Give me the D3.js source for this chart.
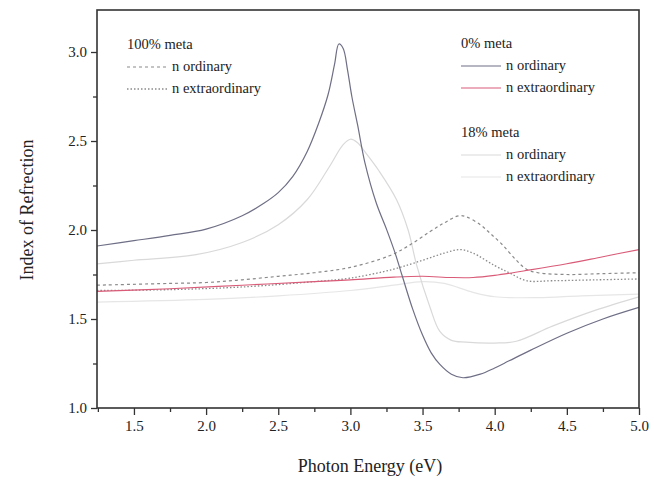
<!DOCTYPE html>
<html><head><meta charset="utf-8">
<script src="https://cdn.jsdelivr.net/npm/d3@7/dist/d3.min.js"></script>
<style>body{margin:0;background:#fff}svg{display:block}</style>
</head><body><svg id="c" width="654" height="480" font-family="'Liberation Serif', 'DejaVu Serif', serif"></svg>
<script>
// ---- data ----
const xTicks = [1.5, 2.0, 2.5, 3.0, 3.5, 4.0, 4.5, 5.0];
const yTicks = [1.0, 1.5, 2.0, 2.5, 3.0];
const xLabel = "Photon Energy (eV)";
const yLabel = "Index of Refrection";

// 0% meta, n ordinary
const e0o = [1.244,1.5,1.75,2.0,2.25,2.4,2.5,2.6,2.7,2.78,2.845,2.89,2.92,2.95,2.98,3.01,3.05,3.1,3.18,3.25,3.31,3.36,3.43,3.5,3.56,3.62,3.7,3.78,3.9,4.0,4.1,4.25,4.5,4.75,5.0];
const n0o = [1.91,1.94,1.97,2.005,2.08,2.15,2.21,2.30,2.44,2.6,2.76,2.93,3.045,3.02,2.9,2.75,2.59,2.38,2.15,2.005,1.87,1.74,1.56,1.41,1.31,1.245,1.19,1.17,1.19,1.225,1.265,1.325,1.42,1.50,1.565];
// 0% meta, n extraordinary
const e0e = [1.244,1.75,2.25,2.75,3.0,3.3,3.5,3.7,3.85,4.0,4.2,4.5,4.75,5.0];
const n0e = [1.655,1.67,1.69,1.71,1.72,1.735,1.74,1.733,1.733,1.745,1.77,1.81,1.85,1.89];
// 100% meta, n ordinary
const e100o = [1.244,1.75,2.0,2.25,2.5,2.75,3.0,3.27,3.4,3.55,3.65,3.75,3.8,3.9,3.97,4.05,4.15,4.22,4.3,4.5,4.75,5.0];
const n100o = [1.69,1.70,1.705,1.72,1.74,1.76,1.79,1.855,1.91,1.99,2.04,2.08,2.075,2.03,1.98,1.92,1.83,1.78,1.76,1.75,1.755,1.76];
// 100% meta, n extraordinary
const e100e = [1.244,1.75,2.25,2.75,3.0,3.3,3.5,3.65,3.76,3.85,4.0,4.1,4.22,4.4,4.7,5.0];
const n100e = [1.66,1.665,1.68,1.71,1.73,1.78,1.83,1.87,1.89,1.87,1.80,1.76,1.715,1.715,1.72,1.725];
// 18% meta, n ordinary
const e18o = [1.244,1.5,1.92,2.25,2.5,2.7,2.85,2.95,3.0,3.05,3.1,3.2,3.32,3.4,3.46,3.55,3.62,3.7,3.8,4.0,4.15,4.4,4.7,5.0];
const n18o = [1.81,1.83,1.86,1.93,2.03,2.17,2.35,2.48,2.51,2.49,2.44,2.33,2.17,2.0,1.80,1.57,1.43,1.38,1.37,1.365,1.375,1.46,1.55,1.625];
// 18% meta, n extraordinary
const e18e = [1.244,2.0,2.5,3.0,3.3,3.5,3.65,3.85,4.0,4.3,4.6,5.0];
const n18e = [1.595,1.61,1.63,1.66,1.69,1.71,1.70,1.65,1.625,1.62,1.63,1.64];

const groupTitles = ["100% meta", "0% meta", "18% meta"];
const seriesNames = ["n ordinary", "n extraordinary"];

// ---- drawing ----
const FONT = "'Liberation Serif', 'DejaVu Serif', serif";
const svg = d3.select("#c");
const L = 97, R = 639, T = 10, B = 408;
const x = d3.scaleLinear().domain([1.244, 5.0]).range([L, R]);
const y = d3.scaleLinear().domain([1.0, 3.236]).range([B, T]);

const series = [
  {e: e18e, n: n18e, color: "#e6e6e6", dash: null, w: 1.2},
  {e: e18o, n: n18o, color: "#d9d9d9", dash: null, w: 1.2},
  {e: e100e, n: n100e, color: "#8a8a8a", dash: "1.5,2", w: 1.3},
  {e: e100o, n: n100o, color: "#8a8a8a", dash: "3,3", w: 1.2},
  {e: e0e, n: n0e, color: "#d95b78", dash: null, w: 1.1},
  {e: e0o, n: n0o, color: "#6e6e86", dash: null, w: 1.2}
];

const line = d3.line().x(d => x(d[0])).y(d => y(d[1])).curve(d3.curveCatmullRom.alpha(0.5));
svg.append("defs").append("clipPath").attr("id","pc").append("rect")
  .attr("x", L).attr("y", T).attr("width", R-L).attr("height", B-T);
const g = svg.append("g").attr("clip-path","url(#pc)");
series.forEach(s => {
  g.append("path").datum(s.e.map((v,i)=>[v, s.n[i]]))
    .attr("d", line).attr("fill","none").attr("stroke", s.color)
    .attr("stroke-width", s.w).attr("stroke-dasharray", s.dash);
});

// axes
const axisColor = "#333";
const xAx = svg.append("g").attr("transform", `translate(0,${B})`)
  .call(d3.axisBottom(x).tickValues(xTicks).tickFormat(d3.format(".1f")).tickSize(7).tickPadding(5));
const xMinor = svg.append("g").attr("transform", `translate(0,${B})`)
  .call(d3.axisBottom(x).tickValues(d3.range(1.25, 5.0, 0.5)).tickFormat("").tickSize(4));
const yAx = svg.append("g").attr("transform", `translate(${L},0)`)
  .call(d3.axisLeft(y).tickValues(yTicks).tickFormat(d3.format(".1f")).tickSize(6).tickPadding(4));
const yMinor = svg.append("g").attr("transform", `translate(${L},0)`)
  .call(d3.axisLeft(y).tickValues([1.25,1.75,2.25,2.75]).tickFormat("").tickSize(4));
[xAx, xMinor, yAx, yMinor].forEach(a => {
  a.attr("font-family", FONT).attr("font-size", 15);
  a.select(".domain").remove();
  a.selectAll("line").attr("stroke", axisColor).attr("stroke-width", 1.3);
  a.selectAll("text").attr("fill", "#222").attr("font-family", FONT).attr("font-size", 15);
});
svg.append("rect").attr("x", L).attr("y", T).attr("width", R-L).attr("height", B-T)
  .attr("fill","none").attr("stroke", axisColor).attr("stroke-width", 1.6);

// axis titles
svg.append("text").attr("x", (L+R)/2 + 2).attr("y", 472).attr("text-anchor","middle")
  .attr("font-family", FONT).attr("font-size", 18).attr("fill","#222").text(xLabel);
svg.append("text").attr("transform","translate(33,210) rotate(-90)").attr("text-anchor","middle")
  .attr("font-family", FONT).attr("font-size", 18).attr("fill","#222").text(yLabel);

// legends
function legend(tx, ty, title, items) {
  svg.append("text").attr("x", tx).attr("y", ty).attr("font-family", FONT).attr("font-size", 14.5)
    .attr("fill","#222").text(title);
  items.forEach((it, i) => {
    const yy = ty + 22 * (i + 1);
    svg.append("line").attr("x1", tx).attr("x2", tx + 40).attr("y1", yy - 4).attr("y2", yy - 4)
      .attr("stroke", it.color).attr("stroke-width", it.w).attr("stroke-dasharray", it.dash);
    svg.append("text").attr("x", tx + 45).attr("y", yy).attr("font-family", FONT).attr("font-size", 14.5)
      .attr("fill","#222").text(it.name);
  });
}
legend(127, 49, groupTitles[0], [
  {name: seriesNames[0], color: series[3].color, dash: series[3].dash, w: series[3].w},
  {name: seriesNames[1], color: series[2].color, dash: series[2].dash, w: series[2].w}
]);
legend(461, 48, groupTitles[1], [
  {name: seriesNames[0], color: series[5].color, dash: null, w: 1.2},
  {name: seriesNames[1], color: series[4].color, dash: null, w: 1.1}
]);
legend(461, 137, groupTitles[2], [
  {name: seriesNames[0], color: series[1].color, dash: null, w: 1.2},
  {name: seriesNames[1], color: series[0].color, dash: null, w: 1.2}
]);
</script></body></html>
